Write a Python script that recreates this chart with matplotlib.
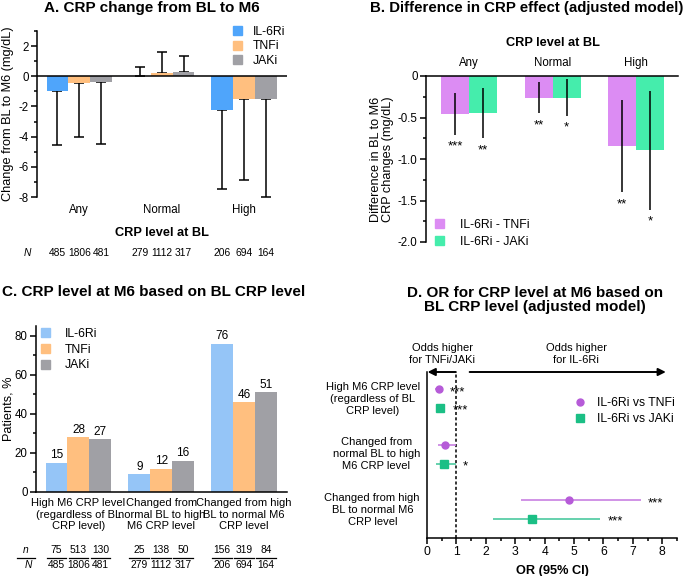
import numpy as np
import matplotlib
matplotlib.use('Agg')
import matplotlib.pyplot as plt
from matplotlib.patches import Patch
from matplotlib.lines import Line2D
from matplotlib.ticker import AutoMinorLocator, MultipleLocator
from matplotlib.transforms import blended_transform_factory as blend

plt.rcParams['font.family'] = ['Liberation Sans', 'DejaVu Sans']
plt.rcParams['axes.unicode_minus'] = False

# ---- data ----
drugs = ['IL-6Ri', 'TNFi', 'JAKi']
bl_levels = ['Any', 'Normal', 'High']

# A. change in CRP (mean, error bar length away from zero)
chg_il6 = [-0.95, 0.02, -2.25]
chg_tnf = [-0.45, 0.2, -1.5]
chg_jak = [-0.35, 0.25, -1.5]
err_il6 = [3.6, 0.6, 5.2]
err_tnf = [3.6, 1.4, 5.4]
err_jak = [4.15, 1.1, 6.5]
N_il6_A = [485, 279, 206]
N_tnf_A = [1806, 1112, 694]
N_jak_A = [481, 317, 164]

# B. difference (adjusted model)
diff_labels = ['IL-6Ri - TNFi', 'IL-6Ri - JAKi']
diff_tnf = [-0.46, -0.26, -0.84]
diff_tnf_lo = [-0.71, -0.45, -1.40]
diff_tnf_hi = [-0.21, -0.07, -0.29]
stars_tnf_B = ['***', '**', '**']
diff_jak = [-0.45, -0.26, -0.89]
diff_jak_lo = [-0.75, -0.48, -1.61]
diff_jak_hi = [-0.14, -0.04, -0.18]
stars_jak_B = ['**', '*', '*']

# C. CRP level at M6
m6_cats = ['High M6 CRP level\n(regardless of BL\nCRP level)',
           'Changed from\nnormal BL to high\nM6 CRP level',
           'Changed from high\nBL to normal M6\nCRP level']
pct_il6 = [15, 9, 76]
pct_tnf = [28, 12, 46]
pct_jak = [27, 16, 51]
n_il6 = [75, 25, 156]
n_tnf = [513, 138, 319]
n_jak = [130, 50, 84]
N_il6 = [485, 279, 206]
N_tnf = [1806, 1112, 694]
N_jak = [481, 317, 164]

# D. odds ratios
or_labels = ['IL-6Ri vs TNFi', 'IL-6Ri vs JAKi']
or_tnf = [0.40, 0.62, 4.83]
or_tnf_lo = [0.26, 0.37, 3.20]
or_tnf_hi = [0.51, 0.98, 7.27]
stars_tnf_D = ['***', '', '***']
or_jak = [0.45, 0.57, 3.57]
or_jak_lo = [0.34, 0.32, 2.23]
or_jak_hi = [0.62, 0.98, 5.88]
stars_jak_D = ['***', '*', '***']

W, H = 685, 576
fig = plt.figure(figsize=(W / 100, H / 100), dpi=100)


def fx(px):
    return px / W


def fy(py):
    return 1 - py / H


def add_ax(l, t, r, b):
    return fig.add_axes([fx(l), fy(b), (r - l) / W, (b - t) / H])


ftick = 8.3
fcat = 8.0
fnum = 7.4
ftitle = 11
flab = 9.2

colA = ['#4fa5fb', '#ffbf7f', '#a0a0a5']
colC = ['#95c5f7', '#ffbf7f', '#a0a0a5']
colB = ['#dc8cf3', '#45edac']
colD = ['#b65bd8', '#1bbf85']
colDl = ['#c880e2', '#4cc9a0']

x = np.arange(3)

# ---------------- A ----------------
axA = add_ax(37, 31, 287, 197)
w = 0.265
for i, (vals, errs, col) in enumerate(zip([chg_il6, chg_tnf, chg_jak],
                                          [err_il6, err_tnf, err_jak], colA)):
    pos = x + (i - 1) * w
    vals = np.array(vals)
    errs = np.array(errs)
    lower = np.where(vals < 0, errs, 0)
    upper = np.where(vals >= 0, errs, 0)
    axA.errorbar(pos, vals, yerr=[lower, upper], fmt='none', ecolor='black',
                 elinewidth=1.1, capsize=3.5, capthick=1.1, zorder=1)
    axA.bar(pos, vals, w, color=col, zorder=2, label=drugs[i])
axA.axhline(0, color='black', lw=1.1, zorder=3)
axA.set_xlim(-0.513, 2.52)
axA.set_ylim(-8, 3)
axA.set_yticks([2, 0, -2, -4, -6, -8])
axA.set_yticklabels(['2', '0', '-2', '-4', '-6', '-8'])
axA.yaxis.set_minor_locator(AutoMinorLocator(2))
axA.set_xticks([])
for s in ['top', 'right', 'bottom']:
    axA.spines[s].set_visible(False)
axA.spines['left'].set_linewidth(1.1)
axA.tick_params(axis='y', labelsize=ftick, width=1.1, length=4, pad=2)
axA.tick_params(axis='y', which='minor', width=1.1, length=2)
fig.text(fx(8), fy(114), 'Change from BL to M6 (mg/dL)', rotation=90, ha='center',
         va='center', fontsize=flab)
tA = blend(axA.transData, fig.transFigure)
for i, lab in enumerate(bl_levels):
    axA.text(i, fy(210), lab, transform=tA, ha='center', va='center', fontsize=ftick)
axA.text(1, fy(233), 'CRP level at BL', transform=tA, ha='center', va='center',
         fontsize=flab, fontweight='bold')
fig.text(fx(27), fy(253), 'N', ha='center', va='center', fontsize=fnum, style='italic')
for i, vals in enumerate([N_il6_A, N_tnf_A, N_jak_A]):
    for g in range(3):
        axA.text(g + (i - 1) * w, fy(253), str(vals[g]), transform=tA,
                 ha='center', va='center', fontsize=fnum)
axA.legend([Patch(color=c) for c in colA], drugs, loc='upper left',
           bbox_to_anchor=(fx(233), fy(26)), bbox_transform=fig.transFigure,
           frameon=False, fontsize=8.8, handlelength=0.75, handleheight=0.75,
           handletextpad=0.9, labelspacing=0.2, borderpad=0, borderaxespad=0)
fig.text(fx(152), fy(8), 'A. CRP change from BL to M6', ha='center', va='center',
         fontsize=ftitle, fontweight='bold')

# ---------------- B ----------------
axB = add_ax(426, 76, 678, 242)
wb = 0.335
series_B = [(diff_tnf, diff_tnf_lo, diff_tnf_hi, stars_tnf_B),
            (diff_jak, diff_jak_lo, diff_jak_hi, stars_jak_B)]
for i, (vals, lo, hi, st) in enumerate(series_B):
    pos = x + (i - 0.5) * wb
    axB.bar(pos, vals, wb, color=colB[i], zorder=1, label=diff_labels[i])
    axB.vlines(pos, lo, hi, color='black', lw=1.1, zorder=2)
    for p, l, s in zip(pos, lo, st):
        axB.text(p, l - 0.07, s, ha='center', va='top', fontsize=9.5)
axB.set_xlim(-0.515, 2.5)
axB.set_ylim(-2, 0)
axB.set_yticks([0, -0.5, -1.0, -1.5, -2.0])
axB.set_yticklabels(['0', '-0.5', '-1.0', '-1.5', '-2.0'])
axB.yaxis.set_minor_locator(AutoMinorLocator(2))
axB.set_xticks([])
for s in ['right', 'bottom']:
    axB.spines[s].set_visible(False)
axB.spines['left'].set_linewidth(1.1)
axB.spines['top'].set_linewidth(1.1)
axB.tick_params(axis='y', labelsize=ftick, width=1.1, length=4, pad=2)
axB.tick_params(axis='y', which='minor', width=1.1, length=2)
fig.text(fx(382), fy(159), 'Difference in BL to M6\nCRP changes (mg/dL)', rotation=90,
         ha='center', va='center', fontsize=flab, linespacing=1.1)
tB = blend(axB.transData, fig.transFigure)
for i, lab in enumerate(bl_levels):
    axB.text(i, fy(63), lab, transform=tB, ha='center', va='center', fontsize=ftick)
axB.text(1, fy(43), 'CRP level at BL', transform=tB, ha='center', va='center',
         fontsize=flab, fontweight='bold')
axB.legend([Patch(color=c) for c in colB], diff_labels, loc='upper left',
           bbox_to_anchor=(fx(435), fy(219)), bbox_transform=fig.transFigure,
           frameon=False, fontsize=8.8, handlelength=0.75, handleheight=0.75,
           handletextpad=1.3, labelspacing=0.4, borderpad=0, borderaxespad=0)
fig.text(fx(683), fy(8), 'B. Difference in CRP effect (adjusted model)', ha='right',
         va='center', fontsize=ftitle - 0.2, fontweight='bold')

# ---------------- C ----------------
axC = add_ax(36, 326, 287, 492)
for i, (vals, col) in enumerate(zip([pct_il6, pct_tnf, pct_jak], colC)):
    pos = x + (i - 1) * w
    axC.bar(pos, vals, w, color=col, zorder=1)
    for p, v in zip(pos, vals):
        axC.annotate(str(v), (p, v), xytext=(0, 1), textcoords='offset points',
                     ha='center', va='bottom', fontsize=8.5)
axC.set_xlim(-0.513, 2.52)
axC.set_ylim(0, 85)
axC.set_yticks([0, 20, 40, 60, 80])
axC.yaxis.set_minor_locator(AutoMinorLocator(2))
axC.set_xticks([])
for s in ['top', 'right']:
    axC.spines[s].set_visible(False)
axC.spines['left'].set_linewidth(1.1)
axC.spines['bottom'].set_linewidth(1.1)
axC.tick_params(axis='y', labelsize=ftick, width=1.1, length=4, pad=2)
axC.tick_params(axis='y', which='minor', width=1.1, length=2)
fig.text(fx(9), fy(409), 'Patients, %', rotation=90, ha='center', va='center',
         fontsize=flab)
tC = blend(axC.transData, fig.transFigure)
for i, lab in enumerate(m6_cats):
    axC.text(i, fy(498), lab, transform=tC, ha='center', va='top', fontsize=fcat,
             linespacing=1.2)
fig.text(fx(26), fy(550), 'n', ha='center', va='center', fontsize=fnum, style='italic')
fig.text(fx(28), fy(565), 'N', ha='center', va='center', fontsize=fnum, style='italic')
fig.add_artist(Line2D([fx(17), fx(35)], [fy(557.5)] * 2, color='black', lw=0.9))
for i, (nn, NN) in enumerate(zip([n_il6, n_tnf, n_jak], [N_il6, N_tnf, N_jak])):
    for g in range(3):
        p = g + (i - 1) * w
        axC.text(p, fy(550), str(nn[g]), transform=tC, ha='center', va='center',
                 fontsize=fnum)
        axC.text(p, fy(565), str(NN[g]), transform=tC, ha='center', va='center',
                 fontsize=fnum)
        axC.add_artist(Line2D([p - w * 0.45, p + w * 0.45], [fy(557.5)] * 2,
                              transform=tC, color='black', lw=0.9, clip_on=False))
axC.legend([Patch(color=c) for c in colC], drugs, loc='upper left',
           bbox_to_anchor=(fx(41), fy(328)), bbox_transform=fig.transFigure,
           frameon=False, fontsize=8.8, handlelength=0.75, handleheight=0.75,
           handletextpad=1.2, labelspacing=0.3, borderpad=0, borderaxespad=0)
fig.text(fx(2), fy(292), 'C. CRP level at M6 based on BL CRP level', ha='left',
         va='center', fontsize=ftitle, fontweight='bold')

# ---------------- D ----------------
axD = add_ax(427, 372, 677, 538)
off = 0.17
series_D = [(or_tnf, or_tnf_lo, or_tnf_hi, stars_tnf_D, 'o', -off),
            (or_jak, or_jak_lo, or_jak_hi, stars_jak_D, 's', off)]
for i, (vals, lo, hi, st, mk, dy) in enumerate(series_D):
    yy = x + dy
    vals = np.array(vals)
    axD.errorbar(vals, yy, xerr=[vals - np.array(lo), np.array(hi) - vals],
                 fmt='none', ecolor=colDl[i], elinewidth=1.2, capsize=0, zorder=2)
    axD.plot(vals, yy, mk, color=colD[i], ms=5 if mk == 'o' else 5.5, zorder=3,
             label=or_labels[i])
    for h, y0, s in zip(hi, yy, st):
        if s:
            axD.text(h + 0.25, y0 + 0.05, s, ha='left', va='center', fontsize=9.5)
axD.axvline(1, color='black', lw=1.1, ls=(0, (2, 1.5)), zorder=1)
axD.set_xlim(0, 8.5)
axD.set_ylim(2.51, -0.48)
axD.set_xticks(range(9))
axD.xaxis.set_minor_locator(MultipleLocator(0.5))
axD.set_yticks([])
for s in ['top', 'right']:
    axD.spines[s].set_visible(False)
axD.spines['left'].set_linewidth(1.1)
axD.spines['bottom'].set_linewidth(1.1)
axD.tick_params(axis='x', labelsize=ftick + 0.5, width=1.1, length=4, pad=2)
axD.tick_params(axis='x', which='minor', width=1.1, length=2)
axD.set_xlabel('OR (95% CI)', fontsize=flab, fontweight='bold', labelpad=5)
tD = blend(fig.transFigure, axD.transData)
for i, lab in enumerate(m6_cats):
    axD.text(fx(420), i, lab, transform=tD, ha='right', va='center', fontsize=fcat,
             multialignment='center', linespacing=1.25)
ytop = -0.48
axD.annotate('', xy=(0.02, ytop), xytext=(0.98, ytop), annotation_clip=False,
             arrowprops=dict(arrowstyle='-|>', color='black', lw=1.4,
                             mutation_scale=11, shrinkA=0, shrinkB=0))
axD.annotate('', xy=(8.12, ytop), xytext=(1.45, ytop), annotation_clip=False,
             arrowprops=dict(arrowstyle='-|>', color='black', lw=1.4,
                             mutation_scale=11, shrinkA=0, shrinkB=0))
fig.text(fx(442), fy(354), 'Odds higher\nfor TNFi/JAKi', ha='center', va='center',
         fontsize=fcat, linespacing=1.25)
fig.text(fx(576), fy(354), 'Odds higher\nfor IL-6Ri', ha='center', va='center',
         fontsize=fcat, linespacing=1.25)
axD.legend(loc='upper left', bbox_to_anchor=(fx(575), fy(397)),
           bbox_transform=fig.transFigure, frameon=False, fontsize=8.8,
           handlelength=0.8, handletextpad=1.0, labelspacing=0.35,
           borderpad=0, borderaxespad=0)
fig.text(fx(535), fy(300), 'D. OR for CRP level at M6 based on\nBL CRP level (adjusted model)',
         ha='center', va='center', fontsize=ftitle, fontweight='bold', linespacing=1.05)

fig.savefig('out.png', dpi=100)
